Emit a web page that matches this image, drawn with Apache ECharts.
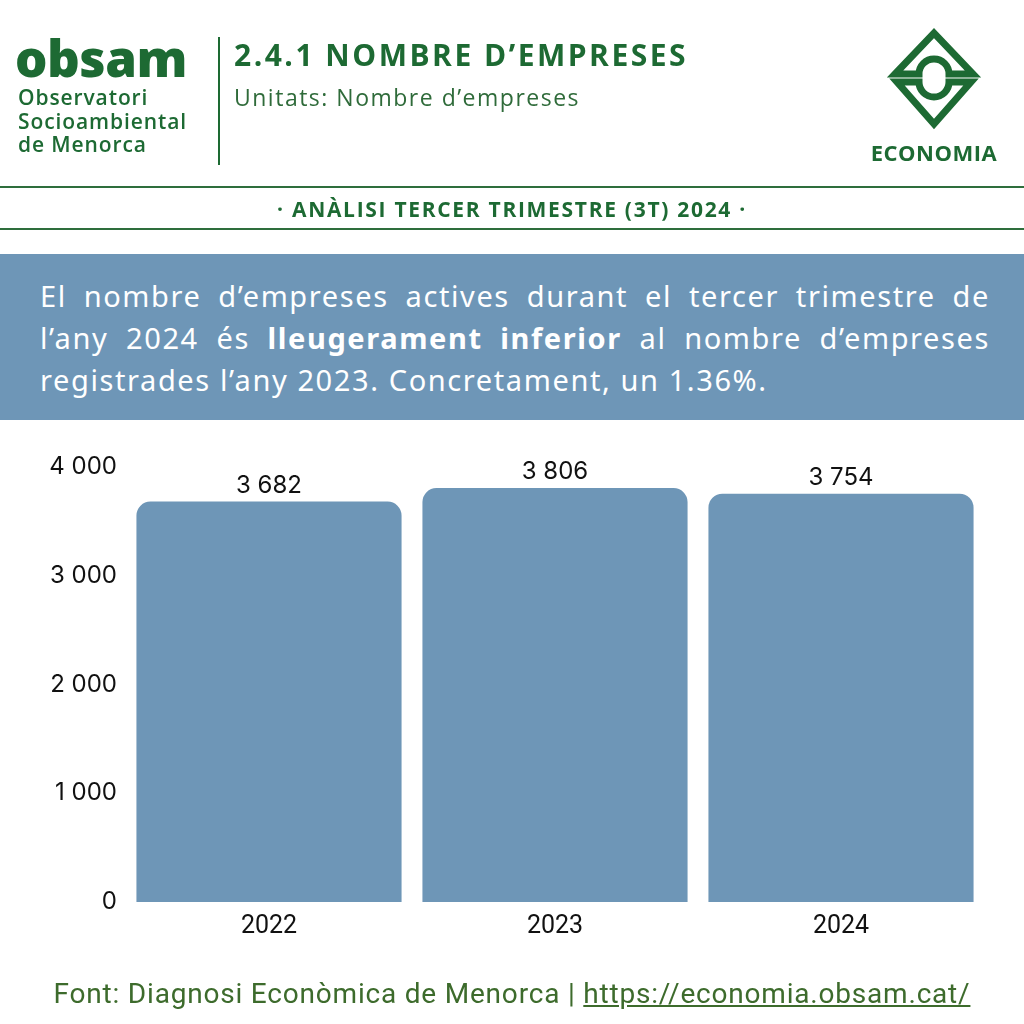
<!DOCTYPE html>
<html>
<head>
<meta charset="utf-8">
<script src="https://cdn.jsdelivr.net/npm/echarts@6/dist/echarts.min.js"></script>
<style>
  html, body { margin:0; padding:0; width:1024px; height:1024px; background:#fff; overflow:hidden; }
  #chart { position:absolute; left:0; top:0; width:1024px; height:1024px; }
  .abs { position:absolute; white-space:nowrap; }
  .green { color:#1d6a33; }
</style>
</head>
<body>
<div id="chart"></div>

<div class="abs green" style="left:15px; top:27px; font-family:'Open Sans'; font-weight:800; font-size:51px; line-height:60px; letter-spacing:-0.5px;">obsam</div>
<div class="abs green" style="left:18px; top:86px; font-family:'Open Sans'; font-weight:600; font-size:21px; line-height:23.5px; letter-spacing:0.9px;">Observatori<br>Socioambiental<br>de Menorca</div>
<div class="abs" style="left:218px; top:37px; width:2px; height:128px; background:#1d6a33;"></div>
<div class="abs green" style="left:234px; top:36px; font-family:'Open Sans'; font-weight:700; font-size:30px; line-height:38px; letter-spacing:2.5px;">2.4.1 NOMBRE D’EMPRESES</div>
<div class="abs" style="left:234px; top:83px; font-family:'Open Sans'; font-weight:400; font-size:23px; line-height:28px; letter-spacing:1.5px; color:#2f6b3a;">Unitats: Nombre d’empreses</div>

<svg class="abs" style="left:0; top:0;" width="1024" height="200">
  <path d="M895,74 L934,33 L973,74 L949,74 A15,15 0 0 0 919,74 Z" fill="none" stroke="#1d6a33" stroke-width="7" stroke-linejoin="miter"/>
  <path d="M897,82 L919,82 A15,15 0 0 0 949,82 L971,82 L934,124 Z" fill="none" stroke="#1d6a33" stroke-width="7" stroke-linejoin="miter"/>
</svg>
<div class="abs green" style="left:834px; top:138px; width:200px; text-align:center; font-family:'Open Sans'; font-weight:700; font-size:22px; line-height:28px; letter-spacing:0.5px;">ECONOMIA</div>

<div class="abs" style="left:0; top:186px; width:1024px; height:2px; background:#2e6e3c;"></div>
<div class="abs green" style="left:0; top:195px; width:1024px; text-align:center; font-family:'Open Sans'; font-weight:700; font-size:21px; line-height:28px; letter-spacing:1.7px;">· ANÀLISI TERCER TRIMESTRE (3T) 2024 ·</div>
<div class="abs" style="left:0; top:228px; width:1024px; height:2px; background:#2e6e3c;"></div>

<div class="abs" style="left:0; top:254px; width:1024px; height:166px; background:#6e96b7;"></div>
<div id="banner" style="position:absolute; left:40px; top:275px; width:950px; font-family:'Noto Sans'; font-size:29px; line-height:42px; letter-spacing:1.6px; color:#fff; text-align:justify; text-align-last:left;">El nombre d’empreses actives durant el tercer trimestre de l’any 2024 és <b>lleugerament inferior</b> al nombre d’empreses registrades l’any 2023. Concretament, un 1.36%.</div>

<div class="abs" style="left:0; top:976px; width:1024px; text-align:center; font-family:'Roboto'; font-size:28px; line-height:36px; letter-spacing:0.8px; color:#3d6b2c;">Font: Diagnosi Econòmica de Menorca | <span style="text-decoration:underline;">https://economia.obsam.cat/</span></div>

<script>
const categories = ['2022', '2023', '2024'];
const values = [3682, 3806, 3754];
const yTicks = [0, 1000, 2000, 3000, 4000];

function fmt(n) { return String(n).replace(/\B(?=(\d{3})+(?!\d))/g, ' '); }

const chart = echarts.init(document.getElementById('chart'), null, { renderer: 'canvas' });
chart.setOption({
  animation: false,
  backgroundColor: 'transparent',
  grid: { left: 126, right: 40, top: 467, bottom: 122 },
  xAxis: {
    type: 'category',
    data: categories,
    axisLine: { show: false },
    axisTick: { show: false },
    axisLabel: { margin: 12, fontFamily: 'Roboto', fontSize: 25, color: '#111' }
  },
  yAxis: {
    type: 'value',
    min: yTicks[0],
    max: yTicks[yTicks.length - 1],
    interval: 1000,
    splitLine: { show: false },
    axisLine: { show: false },
    axisTick: { show: false },
    axisLabel: { margin: 9, fontFamily: 'Inter', fontSize: 24, color: '#111', formatter: v => fmt(v) }
  },
  series: [{
    type: 'bar',
    data: values,
    barCategoryGap: '7.3%',
    itemStyle: { color: '#6e96b7', borderRadius: [14, 14, 0, 0] },
    label: {
      show: true, position: 'top', distance: 4,
      fontFamily: 'Inter', fontSize: 24, color: '#111',
      formatter: p => fmt(p.value)
    }
  }]
});
</script>
</body>
</html>
